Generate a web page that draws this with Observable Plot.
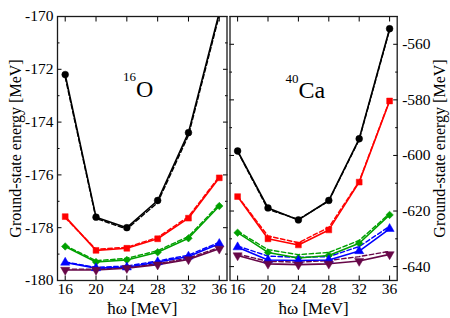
<!DOCTYPE html>
<html>
<head>
<meta charset="utf-8">
<script src="https://cdn.jsdelivr.net/npm/d3@7"></script>
<script src="https://cdn.jsdelivr.net/npm/@observablehq/plot@0.6"></script>
<style>
  body { margin: 0; background: #fff; }
  #chart { position: relative; width: 450px; height: 318px; background: #fff; }
  #chart svg { position: absolute; top: 0; background: transparent !important; }
  #chart svg, #chart svg text { font-family: "Liberation Serif", "DejaVu Serif", serif !important; }
</style>
</head>
<body>
<div id="chart"></div>
<script>
// ħω values [MeV]
const hw = [16, 20, 24, 28, 32, 36];

// 16O ground-state energies [MeV] (solid = with markers, dashed = companion)
const o16Circle      = [-172.2, -177.6, -178.0, -176.97, -174.4, -169.85];
const o16CircleDash  = [-172.3, -177.65, -178.05, -177.05, -174.5, -169.95];
const o16Square      = [-177.58, -178.86, -178.78, -178.42, -177.64, -176.11];
const o16SquareDash  = [-177.62, -178.82, -178.74, -178.37, -177.58, -176.06];
const o16Diamond     = [-178.71, -179.3, -179.22, -178.93, -178.4, -177.18];
const o16DiamondDash = [-178.67, -179.25, -179.16, -178.87, -178.33, -177.12];
const o16Up          = [-179.32, -179.53, -179.5, -179.3, -179.09, -178.61];
const o16UpDash      = [-179.3, -179.5, -179.45, -179.26, -179.04, -178.55];
const o16Down        = [-179.6, -179.6, -179.53, -179.4, -179.2, -178.8];
const o16DownDash    = [-179.57, -179.57, -179.5, -179.36, -179.15, -178.75];

// 40Ca ground-state energies [MeV]
const ca40Circle      = [-598.4, -618.9, -623.2, -616.2, -594.0, -554.4];
const ca40CircleDash  = [-598.6, -619.4, -623.0, -616.4, -594.3, -554.8];
const ca40Square      = [-614.8, -630.0, -632.2, -626.8, -609.6, -580.4];
const ca40SquareDash  = [-614.6, -629.0, -631.4, -625.9, -609.3, -580.2];
const ca40Diamond     = [-627.8, -634.9, -636.9, -636.0, -631.6, -621.4];
const ca40DiamondDash = [-627.3, -633.9, -635.7, -634.9, -630.6, -620.9];
const ca40Up          = [-633.0, -637.6, -637.8, -637.6, -634.4, -626.4];
const ca40UpDash      = [-632.6, -636.2, -636.7, -636.4, -632.8, -625.5];
const ca40Down        = [-636.0, -639.0, -639.3, -639.0, -638.0, -635.6];
const ca40DownDash    = [-635.5, -638.1, -638.4, -637.8, -636.4, -634.5];

// Series styling
const seriesColors  = ["#000000", "#ff0000", "#00a000", "#0000ff", "#670748"];
const seriesSymbols = ["circle", "square", "diamond2", "triangle", "triangle"];
const seriesRotate  = [0, 0, 0, 0, 180];

// Axis ticks
const xTicks = [16, 20, 24, 28, 32, 36];
const o16Major = [-180, -178, -176, -174, -172, -170];
const o16Minor = [-179, -177, -175, -173, -171];
const ca40Major = [-640, -620, -600, -580, -560];
const ca40Minor = [-630, -610, -590, -570, -550];

const yTitle = "Ground-state energy [MeV]";
const xTitle = "ħω [MeV]";

function rows(arr) { return hw.map((x, i) => ({x, y: arr[i]})); }

function panel({solid, dashed, yDomain, major, minor, labelSide, width, mL, mR, nucMass, nucName, annX, annYBase, annYSup}) {
  const marks = [];
  dashed.forEach((arr, i) => {
    marks.push(Plot.line(rows(arr), {x: "x", y: "y", stroke: seriesColors[i], strokeWidth: 1.4, strokeDasharray: "4.5,2.5", clip: true}));
  });
  solid.forEach((arr, i) => {
    marks.push(Plot.line(rows(arr), {x: "x", y: "y", stroke: seriesColors[i], strokeWidth: 1.6, clip: true}));
  });
  solid.forEach((arr, i) => {
    marks.push(Plot.dot(rows(arr), {x: "x", y: "y", symbol: seriesSymbols[i], rotate: seriesRotate[i], fill: seriesColors[i], stroke: seriesColors[i], strokeWidth: 0.5, r: i === 1 ? 3.3 : 3.4, clip: true}));
  });
  const fmt = d => String(d);
  const blank = () => "";
  const other = labelSide === "left" ? "right" : "left";
  marks.push(
    Plot.axisY(major, {anchor: labelSide, tickSize: -4.5, tickPadding: labelSide === "left" ? 8.5 : 9.5, tickFormat: fmt, fontSize: 15.5, label: null}),
    Plot.axisY(minor, {anchor: labelSide, tickSize: -2.5, tickFormat: blank, label: null}),
    Plot.axisY(major, {anchor: other, tickSize: -4.5, tickFormat: blank, label: null}),
    Plot.axisY(minor, {anchor: other, tickSize: -2.5, tickFormat: blank, label: null}),
    Plot.axisX(xTicks, {anchor: "bottom", tickSize: -4.5, tickPadding: 7, tickFormat: fmt, fontSize: 15.5, label: null}),
    Plot.axisX(xTicks, {anchor: "top", tickSize: -4.5, tickFormat: blank, label: null}),
    Plot.frame({stroke: "#1a1a1a", strokeWidth: 1.3}),
    Plot.text([xTitle], {frameAnchor: "bottom", dy: 33, textAnchor: "middle", lineAnchor: "bottom", fontSize: 17}),
    Plot.text([yTitle], {frameAnchor: labelSide, dx: labelSide === "left" ? -42 : 43, textAnchor: "middle", lineAnchor: "middle", rotate: -90, fontSize: 16}),
    Plot.text([nucName], {x: annX, y: annYBase, textAnchor: "start", lineAnchor: "bottom", fontSize: 24}),
    Plot.text([nucMass], {x: annX, y: annYSup, textAnchor: "end", lineAnchor: "bottom", fontSize: 13})
  );
  return Plot.plot({
    width, height: 318,
    marginLeft: mL, marginRight: mR, marginTop: 16, marginBottom: 38,
    x: {domain: [15, 37]},
    y: {domain: yDomain},
    style: {fontFamily: "'Liberation Serif', 'DejaVu Serif', serif", fontSize: "15px", background: "transparent", color: "#000", overflow: "visible"},
    marks
  });
}

const left = panel({
  solid: [o16Circle, o16Square, o16Diamond, o16Up, o16Down],
  dashed: [o16CircleDash, o16SquareDash, o16DiamondDash, o16UpDash, o16DownDash],
  yDomain: [-180, -170], major: o16Major, minor: o16Minor, labelSide: "left",
  width: 230, mL: 57, mR: 3.5,
  nucMass: "16", nucName: "O", annX: 25.2, annYBase: -173.05, annYSup: -172.45
});
left.style.left = "0px";

const right = panel({
  solid: [ca40Circle, ca40Square, ca40Diamond, ca40Up, ca40Down],
  dashed: [ca40CircleDash, ca40SquareDash, ca40DiamondDash, ca40UpDash, ca40DownDash],
  yDomain: [-645, -550], major: ca40Major, minor: ca40Minor, labelSide: "right",
  width: 225, mL: 4.5, mR: 53.3,
  nucMass: "40", nucName: "Ca", annX: 24.0, annYBase: -579.4, annYSup: -573.8
});
right.style.left = "225px";

document.getElementById("chart").append(left, right);
</script>
</body>
</html>
